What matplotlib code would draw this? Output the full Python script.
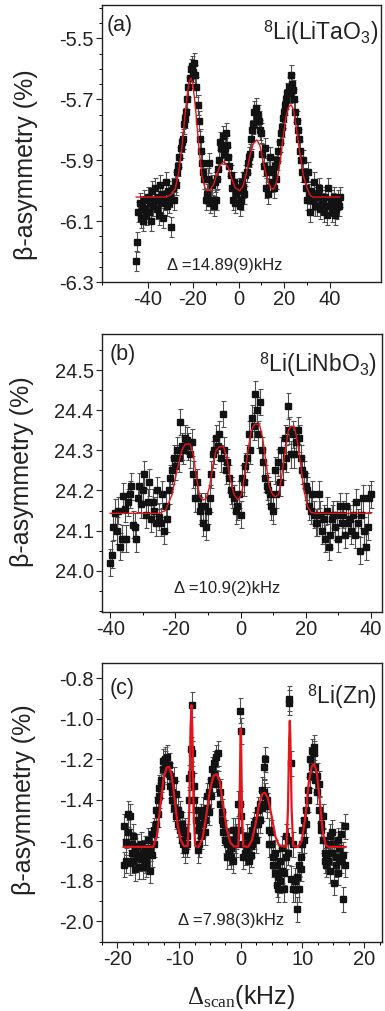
import numpy as np
import matplotlib
matplotlib.use("Agg")
import matplotlib.pyplot as plt
from matplotlib.ticker import MultipleLocator, FixedLocator

plt.rcParams['font.family'] = ['Liberation Sans', 'DejaVu Sans']
plt.rcParams['mathtext.fontset'] = 'custom'
plt.rcParams['mathtext.rm'] = 'Liberation Serif'
plt.rcParams['mathtext.it'] = 'Liberation Serif:italic'
plt.rcParams['mathtext.sf'] = 'Liberation Sans'

# ---------------- Panel (a): 8Li in LiTaO3 ----------------
a_x_start, a_x_step = -45.0, 0.5
a_y = [
    -6.23, -6.17, -6.07, -6.04, -6.09, -6.05, -6.10, -6.03, -6.06, -6.08,
    -6.02, -6.07, -6.04, -6.10, -6.00, -6.05, -6.03, -5.99, -6.06, -6.02,
    -6.08, -5.98, -6.04, -6.01, -6.09, -6.03, -5.97, -6.05, -6.00, -6.04,
    -6.02, -6.12, -5.99, -6.03, -5.97, -5.98, -5.94, -5.92, -5.89, -5.86,
    -5.84, -5.83, -5.78, -5.76, -5.74, -5.70, -5.66, -5.63, -5.60, -5.59,
    -5.61, -5.58, -5.62, -5.66, -5.72, -5.77, -5.83, -5.87, -5.91, -5.94,
    -5.96, -6.03, -6.01, -5.96, -5.91, -6.04, -6.03, -5.98, -6.05, -5.97,
    -6.03, -5.96, -5.93, -5.90, -5.84, -5.86, -5.82, -5.88, -5.86, -5.81,
    -5.85, -5.89, -5.92, -5.95, -5.99, -6.03, -5.97, -6.04, -6.01, -6.00,
    -5.99, -6.05, -6.03, -5.97, -5.99, -6.01, -5.95, -5.94, -5.91, -5.89,
    -5.88, -5.83, -5.80, -5.78, -5.74, -5.73, -5.76, -5.75, -5.77, -5.80,
    -5.81, -5.88, -5.92, -5.86, -5.99, -5.94, -6.01, -5.93, -5.89, -5.97,
    -5.94, -5.99, -5.92, -5.96, -5.90, -5.87, -5.84, -5.81, -5.79, -5.76,
    -5.74, -5.72, -5.70, -5.68, -5.66, -5.68, -5.62, -5.65, -5.67, -5.70,
    -5.74, -5.77, -5.80, -5.83, -5.87, -5.90, -5.94, -5.90, -5.96, -5.99,
    -6.03, -5.94, -6.01, -6.07, -6.00, -6.03, -5.97, -6.05, -6.02, -6.05,
    -6.01, -5.99, -6.06, -6.03, -6.04, -6.07, -6.02, -6.05, -6.08, -5.99,
    -6.05, -6.03, -6.07, -6.04, -6.02, -6.08, -6.06, -6.03, -6.05, -6.02,
]
a_err = 0.033
a_fit_x = [-45, -32, -30, -28.5, -27.8, -26.3, -24.8, -23.4, -22.3, -21.5, -20.9,
           -20.2, -19.0, -17.5, -16.1, -14.8, -13.5, -12.4, -11, -9.5, -8, -6.3,
           -4.5, -3, -1.5, 0.5, 2, 3.5, 5, 6.5, 8.1, 9.5, 11, 12.5, 14, 15.4,
           16.8, 18.2, 19.5, 20.8, 22, 23.1, 24.2, 25.5, 27, 28.5, 30, 31.3,
           32.5, 44.5]
a_fit_y = [-6.021, -6.021, -6.015, -6.0, -5.994, -5.94, -5.852, -5.743, -5.67,
           -5.638, -5.63, -5.645, -5.72, -5.852, -5.95, -5.99, -6.0, -5.996,
           -5.98, -5.945, -5.915, -5.904, -5.925, -5.96, -5.99, -6.0, -5.985,
           -5.94, -5.885, -5.845, -5.833, -5.855, -5.91, -5.96, -5.99, -5.996,
           -5.97, -5.91, -5.83, -5.76, -5.725, -5.718, -5.735, -5.80, -5.88,
           -5.95, -5.99, -6.013, -6.021, -6.021]

# ---------------- Panel (b): 8Li in LiNbO3 ----------------
b_x_start, b_x_step = -40.0, 0.5
b_y = [
    24.02, 24.04, 24.11, 24.145, 24.10, 24.15, 24.06, 24.08, 24.185, 24.155,
    24.08, 24.17, 24.19, 24.21, 24.115, 24.11, 24.08, 24.18, 24.21, 24.165,
    24.20, 24.24, 24.14, 24.17, 24.22, 24.13, 24.17, 24.15, 24.12, 24.20,
    24.135, 24.12, 24.19, 24.10, 24.16, 24.13, 24.20, 24.23, 24.25, 24.28,
    24.26, 24.30, 24.28, 24.37, 24.31, 24.30, 24.33, 24.325, 24.31, 24.29,
    24.32, 24.24, 24.18, 24.22, 24.18, 24.15, 24.16, 24.12, 24.16, 24.11,
    24.15, 24.18, 24.24, 24.29, 24.30, 24.33, 24.31, 24.34, 24.28, 24.39,
    24.30, 24.25, 24.27, 24.23, 24.20, 24.19, 24.18, 24.15, 24.16, 24.19,
    24.14, 24.23, 24.22, 24.26, 24.28, 24.34, 24.30, 24.38, 24.36, 24.44,
    24.40, 24.34, 24.42, 24.30, 24.27, 24.23, 24.21, 24.20, 24.19, 24.16,
    24.15, 24.25, 24.19, 24.27, 24.22, 24.30, 24.26, 24.33, 24.28, 24.41,
    24.35, 24.29, 24.34, 24.29, 24.32, 24.35, 24.33, 24.28, 24.25, 24.24,
    24.21, 24.20, 24.16, 24.15, 24.19, 24.14, 24.12, 24.12, 24.19, 24.14,
    24.10, 24.13, 24.08, 24.15, 24.06, 24.09, 24.13, 24.14, 24.11, 24.14,
    24.08, 24.16, 24.12, 24.14, 24.09, 24.16, 24.12, 24.13, 24.10, 24.14,
    24.09, 24.17, 24.12, 24.05, 24.14, 24.18, 24.10, 24.06, 24.11, 24.18,
    24.19,
]
b_err = 0.033
b_fit_x = [-40, -25, -23, -21, -19.5, -18, -17, -15.5, -14.5, -13.5, -12.5,
           -11.5, -10.5, -9.5, -8.5, -7.5, -6.5, -5.2, -4.2, -3.2, -2, -0.8,
           0.3, 1.3, 2.3, 3.3, 4.3, 5.8, 6.8, 7.8, 8.8, 9.8, 10.7, 11.7, 12.7,
           13.7, 14.7, 15.5, 16.5, 17.5, 18.5, 19.5, 20.5, 21.7, 23, 40]
b_fit_y = [24.143, 24.143, 24.15, 24.19, 24.25, 24.30, 24.315, 24.316, 24.29,
           24.23, 24.185, 24.176, 24.18, 24.21, 24.26, 24.30, 24.309, 24.309,
           24.28, 24.23, 24.19, 24.176, 24.19, 24.24, 24.30, 24.35, 24.365,
           24.365, 24.33, 24.27, 24.21, 24.19, 24.184, 24.19, 24.24, 24.30,
           24.35, 24.36, 24.36, 24.32, 24.26, 24.20, 24.16, 24.145, 24.143,
           24.143]

# ---------------- Panel (c): 8Li in Zn ----------------
c_x = [-18.9, -18.6, -18.3, -18.0, -17.7, -17.4, -17.1, -16.8, -16.5, -16.2,
       -15.9, -15.6, -15.3, -15.0, -14.7, -14.4, -14.1, -13.8, -13.5, -13.2,
       -12.9, -12.6, -12.3, -12.0, -11.7, -11.4, -11.1, -10.8, -10.5, -10.2,
       -9.9, -9.6, -9.3, -9.0, -8.7, -8.4, -8.1, -7.9, -7.6, -7.3,
       -7.0, -6.7, -6.4, -6.1, -5.8, -5.5, -5.2, -4.9, -4.6, -4.3,
       -4.0, -3.7, -3.4, -3.1, -2.8, -2.5, -2.2, -1.9, -1.6, -1.3,
       -1.0, -0.7, -0.4, -0.1, 0.1, 0.4, 0.7, 1.0, 1.3, 1.6,
       1.9, 2.2, 2.5, 2.8, 3.1, 3.4, 3.7, 4.0, 4.3, 4.6,
       4.9, 5.2, 5.5, 5.8, 6.1, 6.4, 6.7, 7.0, 7.3, 7.6,
       7.8, 8.2, 8.5, 8.8, 9.1, 9.4, 9.7, 10.0, 10.3, 10.6,
       10.9, 11.2, 11.5, 11.8, 12.1, 12.4, 12.7, 13.0, 13.3, 13.6,
       13.9, 14.2, 14.5, 14.8, 15.1, 15.4, 15.7, 16.0, 16.3, 16.6,
       16.9]
c_y1 = [-1.72, -1.61, -1.47, -1.48, -1.62, -1.58, -1.65, -1.68, -1.67, -1.62,
        -1.73, -1.70, -1.69, -1.60, -1.75, -1.57, -1.55, -1.52, -1.47, -1.38,
        -1.30, -1.25, -1.20, -1.19, -1.23, -1.28, -1.40, -1.44, -1.48, -1.52,
        -1.55, -1.60, -1.56, -1.55, -1.62, -1.40, -1.15, -0.93, -1.33, -1.45,
        -1.55, -1.52, -1.58, -1.52, -1.50, -1.38, -1.36, -1.30, -1.25, -1.22,
        -1.19, -1.17, -1.42, -1.50, -1.52, -1.60, -1.62, -1.60, -1.68, -1.70,
        -1.55, -1.62, -1.55, -0.96, -1.06, -1.62, -1.62, -1.65, -1.60, -1.63,
        -1.62, -1.52, -1.50, -1.45, -1.42, -1.35, -1.24, -1.20, -1.40, -1.55,
        -1.62, -1.68, -1.76, -1.82, -1.78, -1.70, -1.75, -1.84, -1.58, -1.60,
        -0.92, -1.22, -1.84, -1.84, -1.94, -1.72, -1.68, -1.62, -1.60, -1.45,
        -1.35, -1.28, -1.16, -1.14, -1.24, -1.36, -1.45, -1.55, -1.60, -1.70,
        -1.68, -1.62, -1.58, -1.56, -1.62, -1.68, -1.60, -1.64, -1.70, -1.89,
        -1.53]
c_y2 = [-1.53, -1.70, -1.56, -1.71, -1.66, -1.70, -1.74, -1.63, -1.73, -1.69,
        -1.66, -1.64, -1.72, -1.66, -1.64, -1.67, -1.62, -1.45, -1.40, -1.34,
        -1.33, -1.21, -1.22, -1.26, -1.27, -1.33, -1.36, -1.30, -1.37, -1.45,
        -1.47, -1.52, -1.62, -1.65, -1.58, -1.29, -1.27, -1.17, -1.40, -1.50,
        -1.65, -1.62, -1.48, -1.45, -1.56, -1.44, -1.46, -1.38, -1.32, -1.27,
        -1.30, -1.32, -1.36, -1.46, -1.56, -1.56, -1.68, -1.66, -1.64, -1.55,
        -1.60, -1.58, -1.42, -1.42, -1.48, -1.68, -1.66, -1.58, -1.70, -1.67,
        -1.55, -1.58, -1.60, -1.52, -1.50, -1.44, -1.36, -1.38, -1.43, -1.62,
        -1.56, -1.72, -1.66, -1.72, -1.84, -1.80, -1.64, -1.76, -1.68, -1.66,
        -0.90, -1.79, -1.62, -1.80, -1.78, -1.84, -1.74, -1.55, -1.50, -1.52,
        -1.40, -1.20, -1.24, -1.17, -1.30, -1.28, -1.32, -1.52, -1.48, -1.66,
        -1.72, -1.70, -1.75, -1.66, -1.81, -1.72, -1.76, -1.70, -1.57, -1.67,
        -1.72]
c_err = 0.062
c_fit_x = [-19, -14.2, -13.6, -13.0, -12.5, -12.0, -11.6, -11.2, -10.7, -10.2,
           -9.7, -9.2, -8.6, -8.35, -8.15, -8.0, -7.85, -7.65, -7.4, -6.8,
           -6.2, -5.6, -5.0, -4.4, -3.9, -3.4, -2.9, -2.3, -1.7, -1.1, -0.4,
           -0.2, -0.05, 0.0, 0.05, 0.2, 0.4, 1.2, 1.8, 2.4, 3.0, 3.5, 3.9,
           4.4, 5.0, 5.6, 6.2, 7.4, 7.65, 7.85, 7.95, 8.05, 8.25, 8.5, 9.3,
           9.9, 10.5, 11.0, 11.5, 11.9, 12.3, 12.8, 13.3, 13.8, 14.3, 17]
c_fit_y = [-1.632, -1.632, -1.58, -1.42, -1.29, -1.24, -1.237, -1.28, -1.40,
           -1.53, -1.60, -1.628, -1.628, -1.45, -1.05, -0.932, -1.05, -1.45,
           -1.628, -1.632, -1.59, -1.48, -1.35, -1.28, -1.273, -1.31, -1.42,
           -1.54, -1.61, -1.63, -1.63, -1.45, -1.10, -1.047, -1.10, -1.45,
           -1.63, -1.632, -1.60, -1.52, -1.42, -1.37, -1.365, -1.39, -1.48,
           -1.58, -1.625, -1.632, -1.45, -1.10, -1.009, -1.10, -1.45, -1.628,
           -1.632, -1.60, -1.48, -1.32, -1.235, -1.223, -1.26, -1.40, -1.56,
           -1.625, -1.632, -1.632]

W, H = 385, 1011
fig = plt.figure(figsize=(W / 100, H / 100), dpi=100)


def add_axes(left, top, right, bottom):
    return fig.add_axes([left / W, 1 - bottom / H, (right - left) / W, (bottom - top) / H])


ax_a = add_axes(102, 5, 381, 282)
ax_b = add_axes(102, 334, 382, 612)
ax_c = add_axes(102, 663, 382, 942)

mk = dict(fmt='s', ms=3.9, mfc='#121212', mec='#121212', ecolor='#505050',
          elinewidth=0.8, capsize=1.8, capthick=0.8, zorder=2)
red = '#e3151f'

ax_a.errorbar(a_x_start + a_x_step * np.arange(len(a_y)), a_y, yerr=a_err, **mk)
ax_a.plot(a_fit_x, a_fit_y, color=red, lw=1.0, zorder=3)
ax_b.errorbar(b_x_start + b_x_step * np.arange(len(b_y)), b_y, yerr=b_err, **mk)
ax_b.plot(b_fit_x, b_fit_y, color=red, lw=1.0, zorder=3)
ax_c.errorbar(c_x, c_y1, yerr=c_err, **mk)
ax_c.errorbar(c_x, c_y2, yerr=c_err, **mk)
ax_c.plot(c_fit_x, c_fit_y, color=red, lw=1.6, zorder=3)

ax_a.set_xlim(-60, 62.6)
ax_a.set_ylim(-6.3, -5.39)
ax_a.xaxis.set_major_locator(FixedLocator([-40, -20, 0, 20, 40]))
ax_a.xaxis.set_minor_locator(FixedLocator([-60, -30, -10, 10, 30]))
ax_a.yaxis.set_major_locator(FixedLocator([-5.5, -5.7, -5.9, -6.1, -6.3]))
ax_a.yaxis.set_minor_locator(MultipleLocator(0.05))
ax_a.set_yticklabels(['-5.5', '-5.7', '-5.9', '-6.1', '-6.3'])
ax_a.set_xticklabels(['-40', '-20', '0', '20', '40'])

ax_b.set_xlim(-42.5, 43.4)
ax_b.set_ylim(23.897, 24.59)
ax_b.xaxis.set_major_locator(FixedLocator([-40, -20, 0, 20, 40]))
ax_b.xaxis.set_minor_locator(FixedLocator([-30, -10, 10, 30]))
ax_b.yaxis.set_major_locator(FixedLocator([24.0, 24.1, 24.2, 24.3, 24.4, 24.5]))
ax_b.yaxis.set_minor_locator(MultipleLocator(0.05))
ax_b.set_yticklabels(['24.0', '24.1', '24.2', '24.3', '24.4', '24.5'])
ax_b.set_xticklabels(['-40', '-20', '0', '20', '40'])

ax_c.set_xlim(-22.5, 22.9)
ax_c.set_ylim(-2.102, -0.724)
ax_c.xaxis.set_major_locator(FixedLocator([-20, -10, 0, 10, 20]))
ax_c.xaxis.set_minor_locator(MultipleLocator(2.5))
ax_c.yaxis.set_major_locator(FixedLocator([-0.8, -1.0, -1.2, -1.4, -1.6, -1.8, -2.0]))
ax_c.yaxis.set_minor_locator(MultipleLocator(0.1))
ax_c.set_yticklabels(['-0.8', '-1.0', '-1.2', '-1.4', '-1.6', '-1.8', '-2.0'])
ax_c.set_xticklabels(['-20', '-10', '0', '10', '20'])

for ax in (ax_a, ax_b, ax_c):
    ax.tick_params(which='major', direction='out', length=4, width=0.8,
                   labelsize=14.5, pad=2, colors='#222222')
    ax.tick_params(which='minor', direction='out', length=2.5, width=0.7)
    for s in ax.spines.values():
        s.set_linewidth(1.0)
        s.set_color('#222222')

# y labels
for yc, xc in ((165, 26), (472, 22), (800, 24)):
    fig.text(xc / W, 1 - yc / H, 'β-asymmetry (%)', rotation=90, ha='center',
             va='center', fontsize=18, color='#222222')

# panel tags and sample names
tag_kw = dict(fontsize=15.5, color='#222222', ha='left', va='center')
ax_a.text(0.018, 0.925, '(a)', transform=ax_a.transAxes, **tag_kw)
ax_b.text(0.029, 0.928, '(b)', transform=ax_b.transAxes, **tag_kw)
ax_c.text(0.029, 0.907, '(c)', transform=ax_c.transAxes, **tag_kw)

nm_kw = dict(fontsize=16.5, color='#222222', ha='right', va='baseline')
ax_a.text(0.989, 0.874, r'$^{\mathsf{8}}$Li(LiTaO$_{\mathsf{3}}$)', transform=ax_a.transAxes, **nm_kw)
ax_b.text(0.982, 0.864, r'$^{\mathsf{8}}$Li(LiNbO$_{\mathsf{3}}$)', transform=ax_b.transAxes, **nm_kw)
ax_c.text(0.982, 0.855, r'$^{\mathsf{8}}$Li(Zn)', transform=ax_c.transAxes, **nm_kw)

d_kw = dict(fontsize=12, color='#222222', ha='center', va='baseline')
ax_a.text(0.441, 0.043, 'Δ =14.89(9)kHz', transform=ax_a.transAxes, **d_kw)
ax_b.text(0.446, 0.07, 'Δ =10.9(2)kHz', transform=ax_b.transAxes, **d_kw)
ax_c.text(0.46, 0.06, 'Δ =7.98(3)kHz', transform=ax_c.transAxes, **d_kw)

fig.text(241 / W, 1 - 997 / H, r'$\Delta_{\mathrm{scan}}$(kHz)', ha='center', va='center',
         fontsize=18, color='#222222')

fig.savefig('out.png', dpi=100)
